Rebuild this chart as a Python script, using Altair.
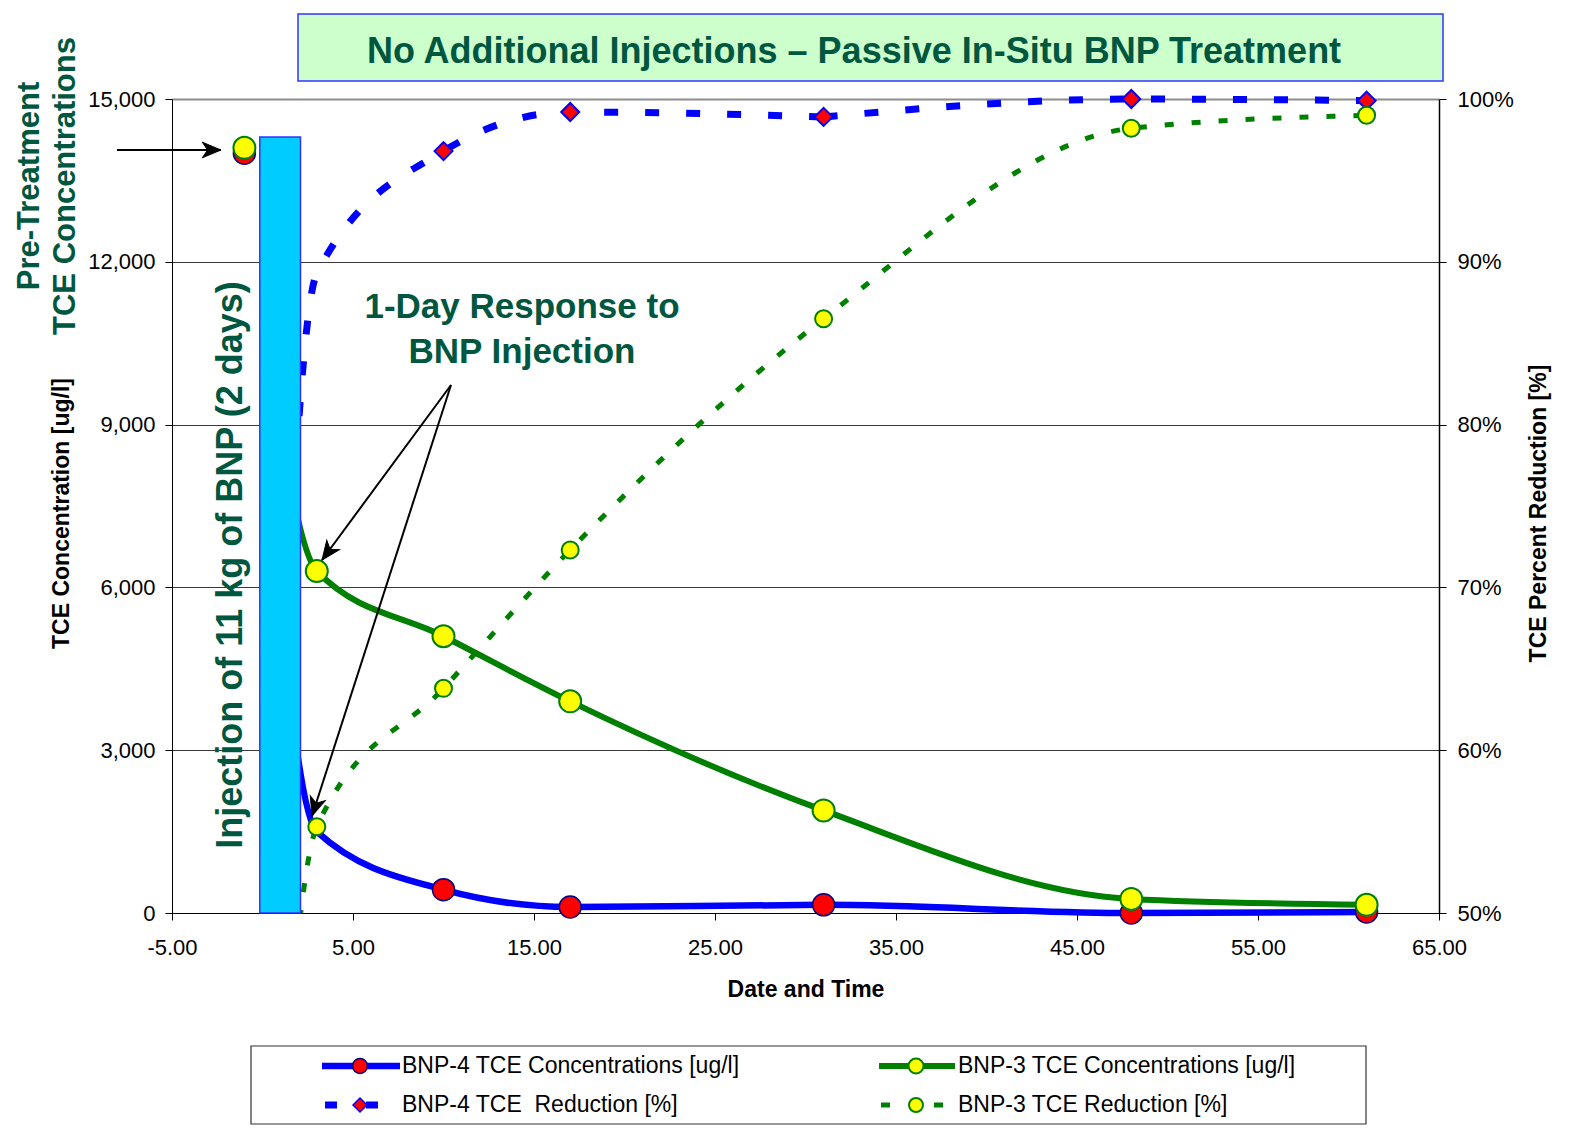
import math
import altair as alt
import pandas as pd

FONT = "Liberation Sans"
GREEN_TXT = "#00573F"

# ---------------- data ----------------
days = [-1, 3, 10, 17, 31, 48, 61]
bnp4_conc = [14000, 1500, 430, 110, 150, 0, 20]
bnp3_conc = [14100, 6300, 5100, 3900, 1890, 260, 150]
bnp4_conc_marked = [True, False, True, True, True, True, True]
bnp4_reduction = [0.0, 89.3, 96.8, 99.2, 98.9, 100.0, 99.9]
bnp3_reduction = [0.0, 55.3, 63.8, 72.3, 86.5, 98.2, 99.0]
bnp4_reduction_marked = [False, False, True, True, True, True, True]
bnp3_reduction_marked = [False, True, True, True, True, True, True]

series_names = [
    "BNP-4 TCE Concentrations [ug/l]",
    "BNP-3 TCE Concentrations [ug/l]",
    "BNP-4 TCE\u00a0 Reduction [%]",
    "BNP-3 TCE Reduction [%]",
]

x_ticks = [-5, 5, 15, 25, 35, 45, 55, 65]
conc_ticks = [0, 3000, 6000, 9000, 12000, 15000]
reduction_ticks = [50, 60, 70, 80, 90, 100]

injection_days = [-0.15, 2.1]
injection_level = [0, 14300]

title_text = "No Additional Injections \u2013 Passive In-Situ BNP Treatment"
pretreat_text = "Pre-Treatment\nTCE Concentrations"
injection_text = "Injection of 11 kg of BNP (2 days)"
response_text = "1-Day Response to\nBNP Injection"

# ---------------- layout (pixels, relative to plot origin) ----------------
W, H = 1267, 814
X_DOM = [-5, 65]
Y_DOM = [0, 15000]
R_DOM = [50, 100]


def dx(px):
    return X_DOM[0] + px / W * (X_DOM[1] - X_DOM[0])


def dy(py):
    return Y_DOM[1] - py / H * (Y_DOM[1] - Y_DOM[0])


L_TITLE_BOX = (126, -85, 1271, -18)
L_TITLE_TXT = (682, -47)
L_PRETREAT_TXT = (-142, 87)
L_INJECT_TXT = (59, 466)
L_RESPONSE_TXT = (350, 208)
L_ARROWS = [
    ((-55, 51), (49, 51)),
    ((279, 286), (150, 461)),
    ((279, 286), (140, 717)),
]
L_LEG_BOX = (79, 947, 1194, 1025)
L_LEG_ROWS = [967, 1006]
L_LEG_LINE = [(150, 228), (707, 783)]
L_LEG_MARK = [188, 744]
L_LEG_TEXT = [230, 786]
L_LEG_DASH = [[(153, 165), (194, 206)], [(709, 718), (762, 771)]]
HIDDEN_LEAD = 260  # stroke length that runs behind the injection bar / pre-treatment marker

xscale = alt.Scale(domain=X_DOM, nice=False, zero=False)
yscale = alt.Scale(domain=Y_DOM, nice=False)
rscale = alt.Scale(domain=R_DOM, nice=False, zero=False)

xaxis = alt.Axis(
    values=x_ticks,
    labelExpr="replace(format(datum.value, '.2f'), '\u2212', '-')",
    title="Date and Time",
    titleFontSize=23, titleFontWeight="bold", titleY=76, titleBaseline="middle",
    labelFontSize=22, labelPadding=17, labelFlush=False, labelOverlap=False,
    tickSize=7, grid=False, domainColor="black", tickColor="black",
    labelColor="black", titleColor="black",
)
left_axis = alt.Axis(
    values=conc_ticks, format=",d",
    title="TCE Concentration [ug/l]",
    titleFontSize=23, titleFontWeight="bold", titleX=-111, titleY=414,
    titleAngle=270, titleAlign="center", titleBaseline="middle",
    labelFontSize=22, labelPadding=10, labelFlush=False, labelOverlap=False,
    tickSize=7, grid=True,
    gridColor={"condition": {"test": "datum.value === 15000", "value": "#8c8c8c"}, "value": "#3a3a3a"},
    gridWidth={"condition": {"test": "datum.value === 15000", "value": 2}, "value": 1},
    domainColor="black", tickColor="black", labelColor="black", titleColor="black",
)
right_axis = alt.Axis(
    orient="right", values=reduction_ticks,
    labelExpr="datum.value + '%'",
    title="TCE Percent Reduction [%]",
    titleFontSize=23, titleFontWeight="bold", titleX=99, titleY=414,
    titleAngle=270, titleAlign="center", titleBaseline="middle",
    labelFontSize=22, labelPadding=11, labelFlush=False, labelOverlap=False,
    tickSize=7, grid=False, domainColor="black", domainWidth=1.5,
    tickColor="black", labelColor="black", titleColor="black",
)

X = alt.X("x:Q", scale=xscale, axis=xaxis)
YL = alt.Y("y:Q", scale=yscale, axis=left_axis)
YR = alt.Y("y:Q", scale=rscale, axis=right_axis)
YO = alt.Y("y:Q", scale=yscale, axis=None)

conc4 = pd.DataFrame({"x": days, "y": bnp4_conc, "marked": bnp4_conc_marked})
conc3 = pd.DataFrame({"x": days, "y": bnp3_conc})
red4 = pd.DataFrame({"x": days, "y": bnp4_reduction, "marked": bnp4_reduction_marked})
red3 = pd.DataFrame({"x": days, "y": bnp3_reduction, "marked": bnp3_reduction_marked})

# ---------------- concentration group (left axis) ----------------
line4 = alt.Chart(conc4).mark_line(
    color="#0000FF", strokeWidth=6.5, interpolate="monotone",
    strokeDash=[6000, HIDDEN_LEAD], strokeDashOffset=6000,
).encode(x=X, y=YL)
line3 = alt.Chart(conc3).mark_line(
    color="#008000", strokeWidth=6, interpolate="monotone",
    strokeDash=[6000, HIDDEN_LEAD], strokeDashOffset=6000,
).encode(x=X, y=YL)
pts4 = alt.Chart(conc4).transform_filter("datum.marked").mark_point(
    shape="circle", filled=True, fill="#FF0000", stroke="#000080",
    strokeWidth=1.5, size=484, opacity=1).encode(x=X, y=YL)
pts3 = alt.Chart(conc3).mark_point(shape="circle", filled=True, fill="#FFFF00", stroke="#008000",
                                   strokeWidth=2, size=484, opacity=1).encode(x=X, y=YL)
left_group = alt.layer(line4, line3, pts4, pts3)

# ---------------- reduction group (right axis) ----------------
r4_head = alt.Chart(red4).transform_filter("datum.x <= 31").mark_line(
    color="#0000FF", strokeWidth=7, strokeDash=[14, 27], interpolate="monotone", clip=True
).encode(x=X, y=YR)
r4_tail = alt.Chart(red4).transform_filter("datum.x >= 31").mark_line(
    color="#0000FF", strokeWidth=7, strokeDash=[14, 27], interpolate="monotone"
).encode(x=X, y=YR)
r3_line = alt.Chart(red3).mark_line(
    color="#008000", strokeWidth=5, strokeDash=[9, 18], interpolate="monotone", clip=True
).encode(x=X, y=YR)
r4_pts = alt.Chart(red4).transform_filter("datum.marked").mark_point(
    shape="diamond", filled=True, fill="#FF0000", stroke="#0000FF", strokeWidth=2, size=324, opacity=1
).encode(x=X, y=YR)
r3_pts = alt.Chart(red3).transform_filter("datum.marked").mark_point(
    shape="circle", filled=True, fill="#FFFF00", stroke="#008000", strokeWidth=2, size=289, opacity=1
).encode(x=X, y=YR)
right_group = alt.layer(r4_head, r4_tail, r3_line, r4_pts, r3_pts)

# ---------------- overlay (annotations, title, legend) ----------------
bar = alt.Chart(pd.DataFrame({
    "x": [injection_days[0]], "x2": [injection_days[1]],
    "y": [injection_level[0]], "y2": [injection_level[1]],
})).mark_rect(fill="#00CCFF", stroke="#3333FF", strokeWidth=1.5).encode(x=X, x2="x2:Q", y=YO, y2="y2:Q")

title_box = alt.Chart(pd.DataFrame({
    "x": [dx(L_TITLE_BOX[0])], "x2": [dx(L_TITLE_BOX[2])],
    "y": [dy(L_TITLE_BOX[1])], "y2": [dy(L_TITLE_BOX[3])],
})).mark_rect(fill="#CCFFCC", stroke="#3333FF", strokeWidth=1.5).encode(x=X, x2="x2:Q", y=YO, y2="y2:Q")

title_txt = alt.Chart(pd.DataFrame({"x": [dx(L_TITLE_TXT[0])], "y": [dy(L_TITLE_TXT[1])], "t": [title_text]})).mark_text(
    font=FONT, fontSize=36, fontWeight="bold", color=GREEN_TXT
).encode(x=X, y=YO, text="t:N")

pretreat_txt = alt.Chart(pd.DataFrame({"x": [dx(L_PRETREAT_TXT[0])], "y": [dy(L_PRETREAT_TXT[1])], "t": [pretreat_text]})).mark_text(
    font=FONT, fontSize=31, fontWeight="bold", color=GREEN_TXT, angle=270, lineBreak="\n", lineHeight=36
).encode(x=X, y=YO, text="t:N")

inject_txt = alt.Chart(pd.DataFrame({"x": [dx(L_INJECT_TXT[0])], "y": [dy(L_INJECT_TXT[1])], "t": [injection_text]})).mark_text(
    font=FONT, fontSize=36, fontWeight="bold", color=GREEN_TXT, angle=270
).encode(x=X, y=YO, text="t:N")

response_txt = alt.Chart(pd.DataFrame({"x": [dx(L_RESPONSE_TXT[0])], "y": [dy(L_RESPONSE_TXT[1])], "t": [response_text]})).mark_text(
    font=FONT, fontSize=35, fontWeight="bold", color=GREEN_TXT, lineBreak="\n", lineHeight=45
).encode(x=X, y=YO, text="t:N")

arrow_rows = []
for (p0, p1) in L_ARROWS:
    ang = math.degrees(math.atan2(p1[1] - p0[1], p1[0] - p0[0])) % 360
    arrow_rows.append({"x": dx(p0[0]), "y": dy(p0[1]), "x2": dx(p1[0]), "y2": dy(p1[1]), "angle": ang})
arrows = pd.DataFrame(arrow_rows)
arrow_lines = alt.Chart(arrows).mark_rule(color="black", strokeWidth=2).encode(x=X, x2="x2:Q", y=YO, y2="y2:Q")
arrow_heads = alt.Chart(arrows).mark_point(
    shape="M0,0 L-1,-0.42 L-0.72,0 L-1,0.42 Z", filled=True, fill="black", stroke="black",
    strokeWidth=1, size=1400, opacity=1
).encode(x=alt.X("x2:Q", scale=xscale, axis=xaxis), y=alt.Y("y2:Q", scale=yscale, axis=None),
         angle=alt.Angle("angle:Q", scale=None))

# legend
leg_box = alt.Chart(pd.DataFrame({
    "x": [dx(L_LEG_BOX[0])], "x2": [dx(L_LEG_BOX[2])],
    "y": [dy(L_LEG_BOX[1])], "y2": [dy(L_LEG_BOX[3])],
})).mark_rect(fill="white", stroke="#333333", strokeWidth=1.2).encode(x=X, x2="x2:Q", y=YO, y2="y2:Q")

leg_text_df = pd.DataFrame({
    "x": [dx(L_LEG_TEXT[i % 2]) for i in range(4)],
    "y": [dy(L_LEG_ROWS[i // 2]) for i in range(4)],
    "t": series_names,
})
leg_text = alt.Chart(leg_text_df).mark_text(
    font=FONT, fontSize=23, color="black", align="left", baseline="middle"
).encode(x=X, y=YO, text="t:N")

leg_layers = [leg_box, leg_text]
line_colors = ["#0000FF", "#008000"]
line_widths = [6.5, 6]
for c in range(2):
    seg = pd.DataFrame({"x": [dx(L_LEG_LINE[c][0])], "x2": [dx(L_LEG_LINE[c][1])], "y": [dy(L_LEG_ROWS[0])]})
    leg_layers.append(alt.Chart(seg).mark_rule(color=line_colors[c], strokeWidth=line_widths[c]).encode(
        x=X, x2="x2:Q", y=YO))
    dash = pd.DataFrame({"x": [dx(a) for a, b in L_LEG_DASH[c]], "x2": [dx(b) for a, b in L_LEG_DASH[c]],
                         "y": [dy(L_LEG_ROWS[1])] * 2})
    leg_layers.append(alt.Chart(dash).mark_rule(color=line_colors[c], strokeWidth=[7, 5][c]).encode(
        x=X, x2="x2:Q", y=YO))

mk = pd.DataFrame({"x": [dx(L_LEG_MARK[0])], "y": [dy(L_LEG_ROWS[0])]})
leg_layers.append(alt.Chart(mk).mark_point(shape="circle", filled=True, fill="#FF0000", stroke="#000080",
                                           strokeWidth=1.5, size=225, opacity=1).encode(x=X, y=YO))
mk = pd.DataFrame({"x": [dx(L_LEG_MARK[1])], "y": [dy(L_LEG_ROWS[0])]})
leg_layers.append(alt.Chart(mk).mark_point(shape="circle", filled=True, fill="#FFFF00", stroke="#008000",
                                           strokeWidth=2, size=225, opacity=1).encode(x=X, y=YO))
mk = pd.DataFrame({"x": [dx(L_LEG_MARK[0])], "y": [dy(L_LEG_ROWS[1])]})
leg_layers.append(alt.Chart(mk).mark_point(shape="diamond", filled=True, fill="#FF0000", stroke="#0000FF",
                                           strokeWidth=1.5, size=196, opacity=1).encode(x=X, y=YO))
mk = pd.DataFrame({"x": [dx(L_LEG_MARK[1])], "y": [dy(L_LEG_ROWS[1])]})
leg_layers.append(alt.Chart(mk).mark_point(shape="circle", filled=True, fill="#FFFF00", stroke="#008000",
                                           strokeWidth=2, size=196, opacity=1).encode(x=X, y=YO))

overlay = alt.layer(bar, inject_txt, response_txt, arrow_lines, arrow_heads, pretreat_txt,
                    title_box, title_txt, *leg_layers)

chart = alt.layer(left_group, right_group, overlay).resolve_scale(y="independent").properties(
    width=W, height=H,
    autosize=alt.AutoSizeParams(type="none"),
    padding={"left": 164, "top": 91, "right": 142, "bottom": 212},
).configure_view(stroke=None).configure_axis(labelFont=FONT, titleFont=FONT)

chart.save("out.html", embed_options={"renderer": "svg", "actions": False})
